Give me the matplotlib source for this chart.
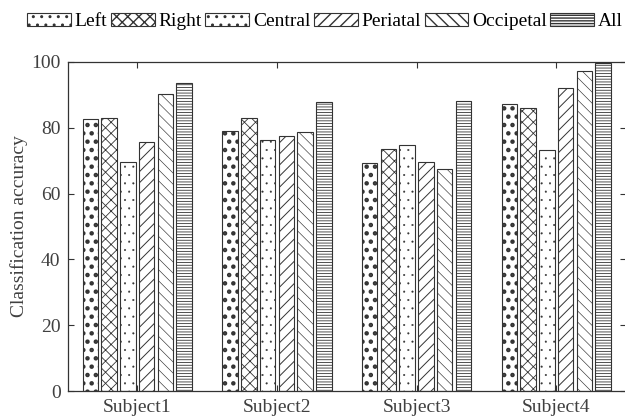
import matplotlib
matplotlib.use("Agg")
import matplotlib.pyplot as plt
import numpy as np

subjects = ["Subject1", "Subject2", "Subject3", "Subject4"]
regions = ["Left", "Right", "Central", "Periatal", "Occipetal", "All"]
left = [82.6, 79.1, 69.4, 87.3]
right = [83.0, 83.0, 73.6, 86.1]
central = [69.6, 76.4, 74.7, 73.3]
periatal = [75.8, 77.5, 69.6, 92.0]
occipetal = [90.4, 78.8, 67.6, 97.3]
all_ = [93.7, 87.8, 88.2, 99.6]
series = [left, right, central, periatal, occipetal, all_]
yticks = [0, 20, 40, 60, 80, 100]

hatches = ["..", "xxx", "..", "///", "\\\\\\", "------"]
hatch_lw = [2.0, 0.6, 0.25, 0.7, 0.45, 0.6]

plt.rcParams["font.family"] = ["Liberation Serif", "DejaVu Serif"]
text_color = "#404040"
fs = 14

fig = plt.figure(figsize=(6.25, 4.18), dpi=100)
ax = fig.add_axes([67.5 / 625, 1 - 391 / 418, 558.5 / 625, (391 - 62) / 418])

x = np.arange(1, len(subjects) + 1)
pitch = 0.1344
width = 0.111
for i, (vals, h, lw) in enumerate(zip(series, hatches, hatch_lw)):
    with plt.rc_context({"hatch.linewidth": lw}):
        bars = ax.bar(x + (i - 2.5) * pitch, vals, width, facecolor="white",
                      edgecolor="#333333", linewidth=0.8, hatch=h,
                      label=regions[i])
        for b in bars:
            if hasattr(b, "set_hatch_linewidth"):
                b.set_hatch_linewidth(lw)

ax.set_xlim(0.5, 4.5)
ax.set_ylim(0, 100)
ax.set_yticks(yticks)
ax.set_xticks(x)
ax.set_xticklabels(subjects)
ax.tick_params(direction="in", length=4, width=0.8, top=True, right=True,
               labelsize=fs, colors="#333333", labelcolor=text_color)
ax.tick_params(axis="x", pad=6)
ax.tick_params(axis="y", pad=5)
for s in ax.spines.values():
    s.set_color("#333333")
    s.set_linewidth(0.9)
ax.set_ylabel("Classification accuracy", fontsize=fs, color=text_color, labelpad=2)

fig.legend(loc="center", bbox_to_anchor=(0.52, 0.949), ncol=6, frameon=False,
           fontsize=fs, handlelength=2.25, handleheight=0.7, handletextpad=0.2,
           columnspacing=0.18, borderpad=0, borderaxespad=0)

fig.savefig("out.png", dpi=100)
